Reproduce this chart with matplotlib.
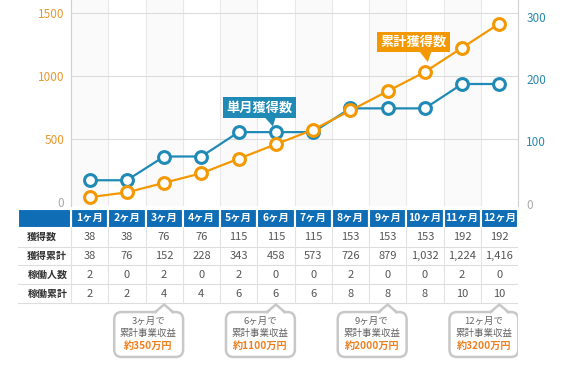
import matplotlib
matplotlib.use("Agg")
import matplotlib.pyplot as plt
from matplotlib.patches import FancyBboxPatch, Polygon

plt.rcParams['font.family'] = ['Noto Sans CJK JP', 'DejaVu Sans']

# data
months = ["1ヶ月", "2ヶ月", "3ヶ月", "4ヶ月", "5ヶ月", "6ヶ月",
          "7ヶ月", "8ヶ月", "9ヶ月", "10ヶ月", "11ヶ月", "12ヶ月"]
monthly = [38, 38, 76, 76, 115, 115, 115, 153, 153, 153, 192, 192]
cumulative = [38, 76, 152, 228, 343, 458, 573, 726, 879, 1032, 1224, 1416]
workers = [2, 0, 2, 0, 2, 0, 0, 2, 0, 0, 2, 0]
workers_cum = [2, 2, 4, 4, 6, 6, 6, 8, 8, 8, 10, 10]
row_names = ["獲得数", "獲得累計", "稼働人数", "稼働累計"]
callout_months = [3, 6, 9, 12]
callout_revenue = ["約350万円", "約1100万円", "約2000万円", "約3200万円"]

orange = '#f39800'
blue = '#1f8ab6'
header_blue = '#0f6db6'
grey_border = '#c8c8c8'

fig = plt.figure(figsize=(5.64, 3.76), dpi=100)

# ---- chart ----
ax = fig.add_axes([71/564, 1-206/376, 447/564, 206/376])
ax2 = ax.twinx()
x = list(range(12))

for i in range(0, 12, 2):
    ax.axvspan(i-0.5, i+0.5, color='#fafafa', zorder=0, lw=0)
for i in range(1, 12):
    ax.axvline(i-0.5, color='#e8e8e8', lw=0.8, zorder=0.5)
for v in [500, 1000, 1500]:
    ax.axhline(v, color='#dcdcdc', lw=0.8, zorder=0.6)

ax.set_xlim(-0.5, 11.5)
ax.set_ylim(-32, 1603)
ax2.set_ylim(-3.2, 326.4)
ax.set_xticks([])
ax.set_yticks([0, 500, 1000, 1500])
ax2.set_yticks([0, 100, 200, 300])
ax.tick_params(axis='y', length=0, pad=5, labelsize=8.5, labelcolor='#e8992e')
ax2.tick_params(axis='y', length=0, pad=6, labelsize=8.5, labelcolor='#2a88b0')
ax.yaxis.get_major_ticks()[0].label1.set_color('#aaaaaa')
ax2.yaxis.get_major_ticks()[0].label2.set_color('#aaaaaa')

for s in ['top', 'bottom']:
    ax.spines[s].set_visible(False)
for s in ['left', 'right']:
    ax.spines[s].set_color('#d0d0d0')
for s in ax2.spines.values():
    s.set_visible(False)

# blue on the right scale, orange on the left scale but drawn above blue
ax2.plot(x, monthly, color=blue, lw=1.6, marker='o', ms=8.5,
         mfc='white', mec=blue, mew=2.2, clip_on=False, zorder=3)
ax2.plot(x, cumulative, color=orange, lw=1.6, marker='o', ms=8.5,
         mfc='white', mec=orange, mew=2.2, clip_on=False, zorder=4,
         transform=ax.transData)

# series labels
ax2.text(4.56, 154, "単月獲得数", ha='center', va='center', color='white',
         fontsize=9.5, fontweight='bold', zorder=5,
         bbox=dict(boxstyle='square,pad=0.25', fc=blue, ec='none'))
ax2.add_patch(Polygon([(4.68, 140), (5.0, 140), (4.92, 124)], closed=True,
                      fc=blue, ec='none', zorder=5))
ax2.text(8.7, 1270, "累計獲得数", ha='center', va='center', color='white',
         fontsize=9.5, fontweight='bold', zorder=5, transform=ax.transData,
         bbox=dict(boxstyle='square,pad=0.25', fc=orange, ec='none'))
ax2.add_patch(Polygon([(8.84, 1200), (9.18, 1200), (9.08, 1110)], closed=True,
                      fc=orange, ec='none', zorder=5, transform=ax.transData))

# ---- table ----
axt = fig.add_axes([18/564, 1-366/376, 500/564, 157/376])
lab_w = 53/37.25
left = -0.5 - lab_w
axt.set_xlim(left, 11.5)
axt.set_ylim(8.35, 0)
axt.axis('off')

axt.bar(x, 1, bottom=0, width=1, color=header_blue, edgecolor='white', linewidth=1.5)
axt.bar(left + lab_w/2, 1, bottom=0, width=lab_w, color=header_blue,
        edgecolor='white', linewidth=1.5)
for i, m in enumerate(months):
    axt.text(i, 0.5, m, ha='center', va='center', color='white',
             fontsize=7.5, fontweight='bold')

rows = [monthly, cumulative, workers, workers_cum]
for r, (name, vals) in enumerate(zip(row_names, rows)):
    y = r + 1.5
    axt.text(left + 0.25, y, name, ha='left', va='center', color='#333333',
             fontsize=7.2, fontweight='bold')
    for i, v in enumerate(vals):
        axt.text(i, y, f"{v:,}", ha='center', va='center', color='#555555',
                 fontsize=8)
    axt.plot([left, 11.5], [r + 2, r + 2], color='#dddddd', lw=0.8)
for j in range(13):
    axt.plot([j - 0.5, j - 0.5], [1, 5], color='#e2e2e2', lw=0.8)

# callout bubbles
for m, rev in zip(callout_months, callout_revenue):
    c = m - 1
    box = FancyBboxPatch((c - 1.34, 5.48), 1.85, 2.39,
                         boxstyle='round,pad=0,rounding_size=0.2',
                         mutation_aspect=2, fc='white', ec=grey_border, lw=1.8)
    axt.add_patch(box)
    axt.add_patch(Polygon([(c - 0.24, 5.62), (c, 5.08), (c + 0.24, 5.62)],
                          closed=True, fc='white', ec='none', zorder=3))
    axt.plot([c - 0.24, c, c + 0.24], [5.48, 5.08, 5.48], color=grey_border,
             lw=1.8, zorder=4, solid_joinstyle='miter')
    tx = c - 0.42
    axt.text(tx, 5.96, f"{m}ヶ月で", ha='center', va='center', color='#666666',
             fontsize=6.8, zorder=5)
    axt.text(tx, 6.6, "累計事業収益", ha='center', va='center', color='#666666',
             fontsize=6.8, zorder=5)
    axt.text(tx, 7.29, rev, ha='center', va='center', color='#f07f1e',
             fontsize=7.3, fontweight='bold', zorder=5)

fig.savefig("out.png", dpi=100)
